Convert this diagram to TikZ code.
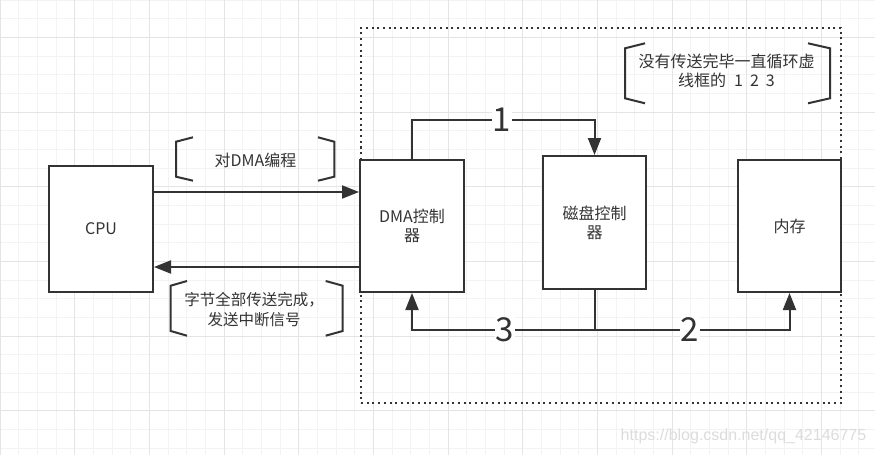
\documentclass[tikz,border=0pt]{standalone}
\usepackage{fontspec}
\setmainfont{Noto Sans CJK SC}
\newfontfamily\wmfont{Liberation Sans}
\usetikzlibrary{arrows.meta}
\definecolor{ink}{HTML}{333333}
\definecolor{gridminor}{HTML}{F3F3F3}
\definecolor{gridmajor}{HTML}{E4E4E4}
\definecolor{wmcol}{HTML}{DCDCDC}
\tikzset{
  box/.style={draw=ink, line width=2pt, fill=white, text=ink, align=center,
    font=\fontsize{16}{19}\selectfont, inner sep=0pt},
  arr/.style={draw=ink, line width=2pt, -{Triangle[length=17pt,width=13pt]}},
  plain/.style={draw=ink, line width=2pt},
  num/.style={fill=white, text=ink, inner sep=1pt, font=\fontsize{33}{33}\selectfont},
  brk/.style={draw=ink, line width=2pt, line join=miter},
  note/.style={text=ink, align=center, inner sep=0pt},
  dotframe/.style={draw=ink, line width=2pt, dash pattern=on 2pt off 3.7pt, inner sep=0pt}
}
\begin{document}
\begin{tikzpicture}[x=1pt,y=-1pt]
\useasboundingbox (0,0) rectangle (875,455);
\fill[white] (0,0) rectangle (875,455);
% grid
\foreach \i in {0,...,47} {
  \draw[gridminor, line width=1pt] (\i*18.667,0) -- (\i*18.667,455);
}
\foreach \i in {0,...,24} {
  \draw[gridminor, line width=1pt] (0,\i*18.667) -- (875,\i*18.667);
}
\foreach \i in {0,...,11} {
  \draw[gridmajor, line width=1pt] (\i*74.667,0) -- (\i*74.667,455);
}
\foreach \i in {0,...,5} {
  \draw[gridmajor, line width=1pt] (0,37.333+\i*74.667) -- (875,37.333+\i*74.667);
}
% watermark
\node[text=wmcol, font=\wmfont\fontsize{16}{16}\selectfont, inner sep=0pt] (wm) at (743.5,436) {https://blog.csdn.net/qq\_42146775};

% dotted frame
\node[dotframe, minimum width=480pt, minimum height=375pt] (frame) at (601,215.5) {};

% boxes
\node[box, minimum width=104pt, minimum height=126pt] (cpu) at (101,229) {CPU};
\node[box, minimum width=104pt, minimum height=132pt] (dma) at (412,226) {DMA控制\\器};
\node[box, minimum width=103pt, minimum height=133pt] (disk) at (594.5,222.5) {磁盘控制\\器};
\node[box, minimum width=103pt, minimum height=132pt] (mem) at (789.5,226) {内存};

% CPU <-> DMA
\coordinate (ya) at (0,192);
\coordinate (yb) at (0,267);
\draw[arr] (cpu.east |- ya) -- (dma.west |- ya);
\draw[arr] (dma.west |- yb) -- (cpu.east |- yb);

% loop 1 2 3
\coordinate (k1) at (502,120);
\coordinate (j) at (594.5,330);
\draw[arr] (dma.north) |- (k1) -| (disk.north);
\draw[plain] (disk.south) -- (j);
\draw[arr] (j) -| (dma.south);
\draw[arr] (j) -| (mem.south);
\node[num] (n1) at (k1) {1};
\node[num] (n3) at (505,330) {3};
\node[num] (n2) at (690,330) {2};

% bracket annotation 1
\draw[brk] (193,137.3) -- (176,141.7) -- (176,176.7) -- (193,180.7);
\draw[brk] (318,137.3) -- (334.3,141.7) -- (334.3,176.7) -- (318,180.7);
\node[note, font=\fontsize{16}{19}\selectfont] (t1) at (255.5,160) {对DMA编程};

% bracket annotation 2
\draw[brk] (187,281) -- (170.7,285.7) -- (170.7,331) -- (187,335.7);
\draw[brk] (325.7,281) -- (342.7,285.7) -- (342.7,331) -- (325.7,335.7);
\node[note, font=\fontsize{15.5}{20}\selectfont] (t2) at (254,310) {字节全部传送完成，\\发送中断信号};

% bracket annotation 3
\draw[brk] (645,43.3) -- (625,48.3) -- (625,98.3) -- (645,103.3);
\draw[brk] (808,43.3) -- (830,48.3) -- (830,98.3) -- (808,103.3);
\node[note, font=\fontsize{16}{18.5}\selectfont] (t3) at (726.5,71) {没有传送完毕一直循环虚\\线框的\hspace{8pt}1\hspace{7pt}2\hspace{7pt}3};
\end{tikzpicture}
\end{document}
